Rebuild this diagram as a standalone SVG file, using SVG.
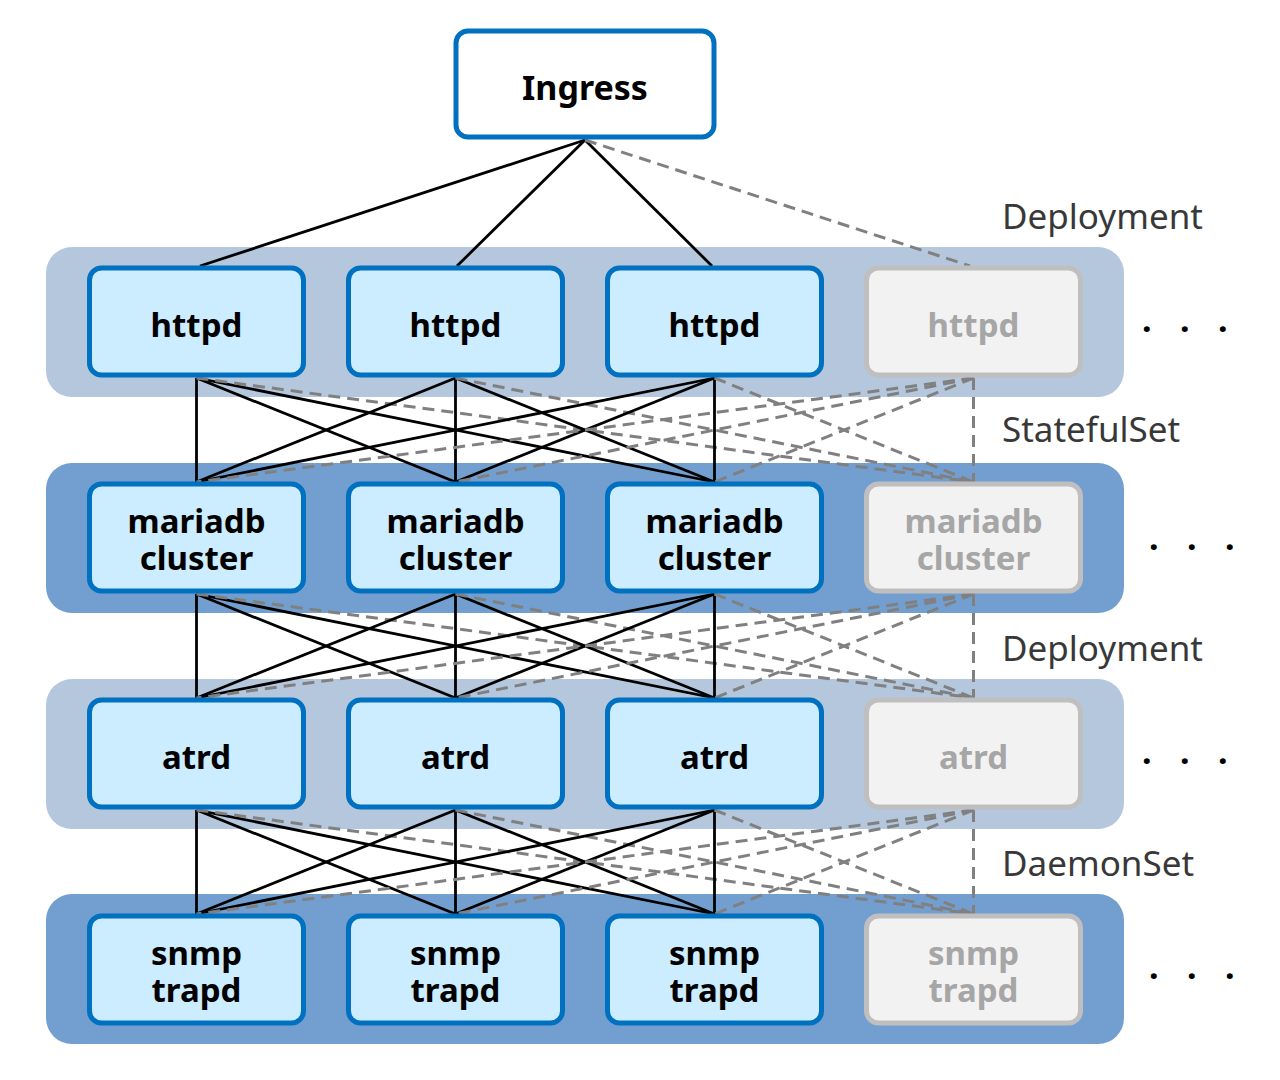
<svg xmlns="http://www.w3.org/2000/svg" width="1280" height="1080" viewBox="0 0 1280 1080">
<style>
.band-l{fill:#B4C7DD}
.band-d{fill:#729FCF}
.node rect{fill:#CCECFF;stroke:#0070C0;stroke-width:5}
.node text{font-family:"Noto Sans","DejaVu Sans",sans-serif;font-weight:bold;font-size:33px;fill:#000;text-anchor:middle}
.ghost rect{fill:#F2F2F2;stroke:#BFBFBF;stroke-width:5}
.ghost text{font-family:"Noto Sans","DejaVu Sans",sans-serif;font-weight:bold;font-size:33px;fill:#A6A6A6;text-anchor:middle}
.s{stroke:#000;stroke-width:2.8;fill:none}
.d{stroke:#808080;stroke-width:3;stroke-dasharray:12 7;fill:none}
.lbl{font-family:"Noto Sans","DejaVu Sans",sans-serif;font-size:35px;fill:#383838}
.dots{font-family:"Noto Sans","DejaVu Sans",sans-serif;font-size:34px;fill:#000;font-weight:bold}
</style>
<rect width="1280" height="1080" fill="#fff"/>
<g id="bands">
<rect class="band-l" x="46" y="247" width="1078" height="150" rx="26"/>
<rect class="band-d" x="46" y="463" width="1078" height="150" rx="26"/>
<rect class="band-l" x="46" y="679" width="1078" height="150" rx="26"/>
<rect class="band-d" x="46" y="894" width="1078" height="150" rx="26"/>
</g>
<g id="connectors">
<line class="s" x1="585" y1="140" x2="200" y2="266"/>
<line class="s" x1="585" y1="140" x2="457" y2="266"/>
<line class="s" x1="585" y1="140" x2="712" y2="266"/>
<line class="d" x1="585" y1="140" x2="970" y2="266"/>
<g id="c1">
<line class="s" x1="196.5" y1="378" x2="196.5" y2="482"/>
<line class="s" x1="196.5" y1="378" x2="455.5" y2="482"/>
<line class="s" x1="196.5" y1="378" x2="714.5" y2="482"/>
<line class="d" x1="196.5" y1="378" x2="973.5" y2="482"/>
<line class="s" x1="455.5" y1="378" x2="196.5" y2="482"/>
<line class="s" x1="455.5" y1="378" x2="455.5" y2="482"/>
<line class="s" x1="455.5" y1="378" x2="714.5" y2="482"/>
<line class="d" x1="455.5" y1="378" x2="973.5" y2="482"/>
<line class="s" x1="714.5" y1="378" x2="196.5" y2="482"/>
<line class="s" x1="714.5" y1="378" x2="455.5" y2="482"/>
<line class="s" x1="714.5" y1="378" x2="714.5" y2="482"/>
<line class="d" x1="714.5" y1="378" x2="973.5" y2="482"/>
<line class="d" x1="973.5" y1="378" x2="196.5" y2="482"/>
<line class="d" x1="973.5" y1="378" x2="455.5" y2="482"/>
<line class="d" x1="973.5" y1="378" x2="714.5" y2="482"/>
<line class="d" x1="973.5" y1="378" x2="973.5" y2="482"/>
</g>
<use href="#c1" y="216"/>
<use href="#c1" y="432"/>
</g>
<g id="ingress" class="node">
<rect x="456" y="31" width="258" height="106" rx="12" style="fill:#fff"/>
<text x="585" y="100" style="font-size:34px">Ingress</text>
</g>
<g id="httpd1" class="node"><rect x="89.5" y="268" width="214" height="107" rx="12"/><text x="196.5" y="337">httpd</text></g>
<g id="httpd2" class="node"><rect x="348.5" y="268" width="214" height="107" rx="12"/><text x="455.5" y="337">httpd</text></g>
<g id="httpd3" class="node"><rect x="607.5" y="268" width="214" height="107" rx="12"/><text x="714.5" y="337">httpd</text></g>
<g id="httpd4" class="ghost"><rect x="866.5" y="268" width="214" height="107" rx="12"/><text x="973.5" y="337">httpd</text></g>
<g id="mariadb1" class="node"><rect x="89.5" y="484" width="214" height="107" rx="12"/><text x="196.5" y="533">mariadb<tspan x="196.5" dy="37">cluster</tspan></text></g>
<g id="mariadb2" class="node"><rect x="348.5" y="484" width="214" height="107" rx="12"/><text x="455.5" y="533">mariadb<tspan x="455.5" dy="37">cluster</tspan></text></g>
<g id="mariadb3" class="node"><rect x="607.5" y="484" width="214" height="107" rx="12"/><text x="714.5" y="533">mariadb<tspan x="714.5" dy="37">cluster</tspan></text></g>
<g id="mariadb4" class="ghost"><rect x="866.5" y="484" width="214" height="107" rx="12"/><text x="973.5" y="533">mariadb<tspan x="973.5" dy="37">cluster</tspan></text></g>
<g id="atrd1" class="node"><rect x="89.5" y="700" width="214" height="107" rx="12"/><text x="196.5" y="769">atrd</text></g>
<g id="atrd2" class="node"><rect x="348.5" y="700" width="214" height="107" rx="12"/><text x="455.5" y="769">atrd</text></g>
<g id="atrd3" class="node"><rect x="607.5" y="700" width="214" height="107" rx="12"/><text x="714.5" y="769">atrd</text></g>
<g id="atrd4" class="ghost"><rect x="866.5" y="700" width="214" height="107" rx="12"/><text x="973.5" y="769">atrd</text></g>
<g id="snmp1" class="node"><rect x="89.5" y="916" width="214" height="107" rx="12"/><text x="196.5" y="965">snmp<tspan x="196.5" dy="37">trapd</tspan></text></g>
<g id="snmp2" class="node"><rect x="348.5" y="916" width="214" height="107" rx="12"/><text x="455.5" y="965">snmp<tspan x="455.5" dy="37">trapd</tspan></text></g>
<g id="snmp3" class="node"><rect x="607.5" y="916" width="214" height="107" rx="12"/><text x="714.5" y="965">snmp<tspan x="714.5" dy="37">trapd</tspan></text></g>
<g id="snmp4" class="ghost"><rect x="866.5" y="916" width="214" height="107" rx="12"/><text x="973.5" y="965">snmp<tspan x="973.5" dy="37">trapd</tspan></text></g>
<g id="labels">
<text class="lbl" x="1002" y="229">Deployment</text>
<text class="lbl" x="1002" y="442">StatefulSet</text>
<text class="lbl" x="1002" y="661">Deployment</text>
<text class="lbl" x="1002" y="876">DaemonSet</text>
<text class="dots" x="1142 1180 1218" y="332">...</text>
<text class="dots" x="1149 1187 1225" y="550">...</text>
<text class="dots" x="1142 1180 1218" y="764">...</text>
<text class="dots" x="1149 1187 1225" y="979">...</text>
</g>
</svg>
